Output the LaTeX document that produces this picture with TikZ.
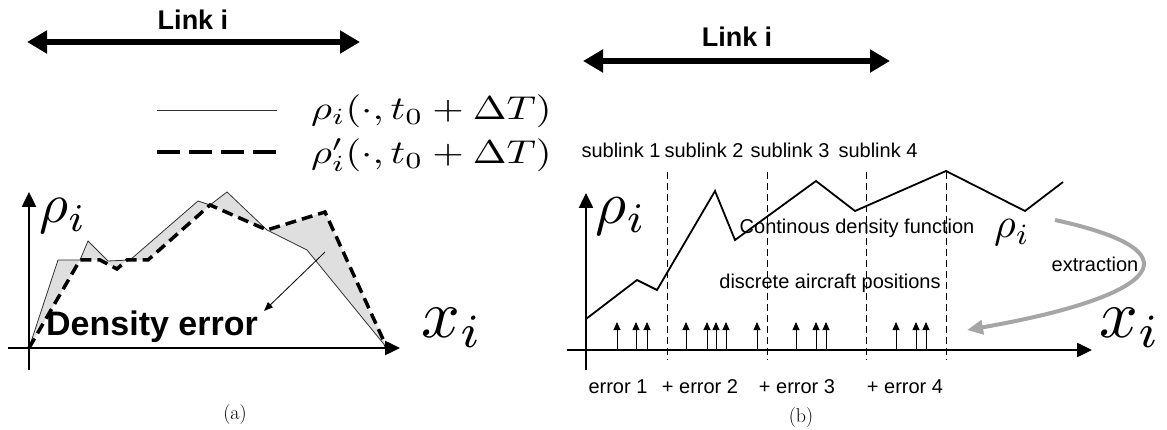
\documentclass[tikz,border=0pt]{standalone}
\usepackage{fontspec}
\usepackage{graphicx}
\setsansfont{Liberation Sans}
\usetikzlibrary{arrows.meta, positioning}
\newcommand{\mathbig}[2]{\scalebox{#1}{\normalsize$#2$}}
\newcommand{\mathwide}[3]{\scalebox{#1}[#2]{\normalsize$#3$}}

\begin{document}
\begin{tikzpicture}[
				x=1pt, y=-1pt,
				every node/.style={font=\sffamily\fontsize{20}{24}\selectfont, inner sep=0pt},
				linklabel/.style={font=\sffamily\bfseries\fontsize{27}{30}\selectfont},
				errlabel/.style={font=\sffamily\bfseries\fontsize{34}{38}\selectfont},
				caption/.style={font=\rmfamily\fontsize{20}{24}\selectfont},
				axis/.style={line width=2.5pt, -{Triangle[length=15pt,width=14pt]}},
				linkarrow/.style={line width=6pt, {Triangle[length=20pt,width=22pt]}-{Triangle[length=20pt,width=22pt]}},
				truedens/.style={line width=0.8pt, draw=black!80},
				approxdens/.style={line width=3.5pt, dash pattern=on 11pt off 6pt},
				legdash/.style={line width=4pt, dash pattern=on 23pt off 9pt},
				sublinkline/.style={line width=0.8pt, dash pattern=on 7pt off 4pt},
				aircraft/.style={line width=0.9pt, -{Triangle[length=8pt,width=7pt]}},
				extract/.style={line width=4pt, draw=gray!70, -{Triangle[length=16pt,width=14pt]}}
				]
				\useasboundingbox (0,0) rectangle (1167,430);
				
				% (a) link and legend
				\node[linklabel] (linkA) at (193,20) {Link i};
				\coordinate (linkAl) at (27,42);
				\coordinate (linkAr) at (360,42);
				\draw[linkarrow] (linkAl) -- (linkAr);
				\coordinate (legAs) at (157,110);
				\coordinate (legAe) at (277,110);
				\coordinate (legBs) at (157,152);
				\coordinate (legBe) at (277,152);
				\draw[truedens] (legAs) -- (legAe);
				\draw[legdash] (legBs) -- (legBe);
				\node[anchor=west] (legAtxt) at (311,111) {\mathwide{4.05}{3.3}{\rho_i(\cdot,t_0+\Delta T)}};
				\node[anchor=west] (legBtxt) at (311,155) {\mathwide{4.05}{3.3}{\rho_i'(\cdot,t_0+\Delta T)}};
				
				% (a) density plot
				\fill[gray!25, even odd rule]
					(29,348) -- (58,260) -- (80,260) -- (88,241) -- (108,261) -- (130,260) -- (198,201) -- (210,205)
					-- (227,192) -- (267,230) -- (307,250) -- (387,348) -- cycle
					(29,348) -- (80,260) -- (100,260) -- (117,269) -- (127,260) -- (148,260) -- (210,205)
					-- (267,230) -- (325,212) -- (387,348) -- cycle;
				\draw[truedens] (29,348) -- (58,260) -- (80,260) -- (88,241) -- (108,261) -- (130,260) -- (198,201)
					-- (210,205) -- (227,192) -- (267,230) -- (307,250) -- (387,348);
				\draw[approxdens] (29,348) -- (80,260) -- (100,260) -- (117,269) -- (127,260) -- (148,260)
					-- (210,205) -- (267,230) -- (325,212) -- (387,348);
				\draw[axis] (8,348) -- (400,348);
				\draw[axis] (29,370) -- (29,192);
				\node (rhoA) at (63,216) {\mathbig{5.6}{\rho_i}};
				\node (xA) at (452,328) {\mathbig{6.8}{x_i}};
				\node[errlabel] (errtxt) at (152,327) {Density error};
				\coordinate (errsrc) at (325,252);
				\draw[line width=0.8pt, -{Triangle[length=9pt,width=7pt]}] (errsrc) -- ([xshift=6pt]errtxt.north east);
				\node[caption] (capA) at (235,415) {(a)};
				
				% (b) link and sublinks
				\node[linklabel] (linkB) at (737,37) {Link i};
				\coordinate (linkBl) at (583,61);
				\coordinate (linkBr) at (890,61);
				\draw[linkarrow] (linkBl) -- (linkBr);
				\foreach \k/\x in {1/621, 2/704, 3/790, 4/878}
					\node (sub\k) at (\x,150) {sublink \k};
				\foreach \x in {667, 767, 866, 946}
					\draw[sublinkline] (\x,172) -- (\x,360);
				
				% (b) density and aircraft
				\draw[line width=1.8pt, line join=miter] (586,319) -- (637,280) -- (657,290) -- (715,191) -- (735,240)
					-- (816,181) -- (855,211) -- (946,171) -- (1025,211) -- (1063,182);
				\draw[axis] (567,350) -- (1092,350);
				\draw[axis] (586,370) -- (586,193);
				\foreach \x in {617, 636, 647, 686, 707, 716, 726, 757, 796, 816, 826, 896, 916, 926}
					\draw[aircraft] (\x,350) -- (\x,322);
				\node (rhoB) at (621,216) {\mathbig{6}{\rho_i}};
				\node (cont) at (857,228) {Continous density function};
				\node (rhoC) at (1012,233) {\mathbig{4.2}{\rho_i}};
				\node (disc) at (830,283) {discrete aircraft positions};
				\node (extr) at (1095,264) {extraction};
				\coordinate (extrs) at (1055,220);
				\coordinate (extre) at (967,330);
				\draw[extract] (extrs) .. controls (1215,255) and (1140,300) .. (extre);
				\node (xB) at (1130,328) {\mathbig{6.8}{x_i}};
				\node (err1) at (618,387) {error 1};
				\node (err2) at (700,387) {+ error 2};
				\node (err3) at (797,387) {+ error 3};
				\node (err4) at (905,387) {+ error 4};
				\node[caption] (capB) at (801,418) {(b)};
			\end{tikzpicture}
\end{document}
